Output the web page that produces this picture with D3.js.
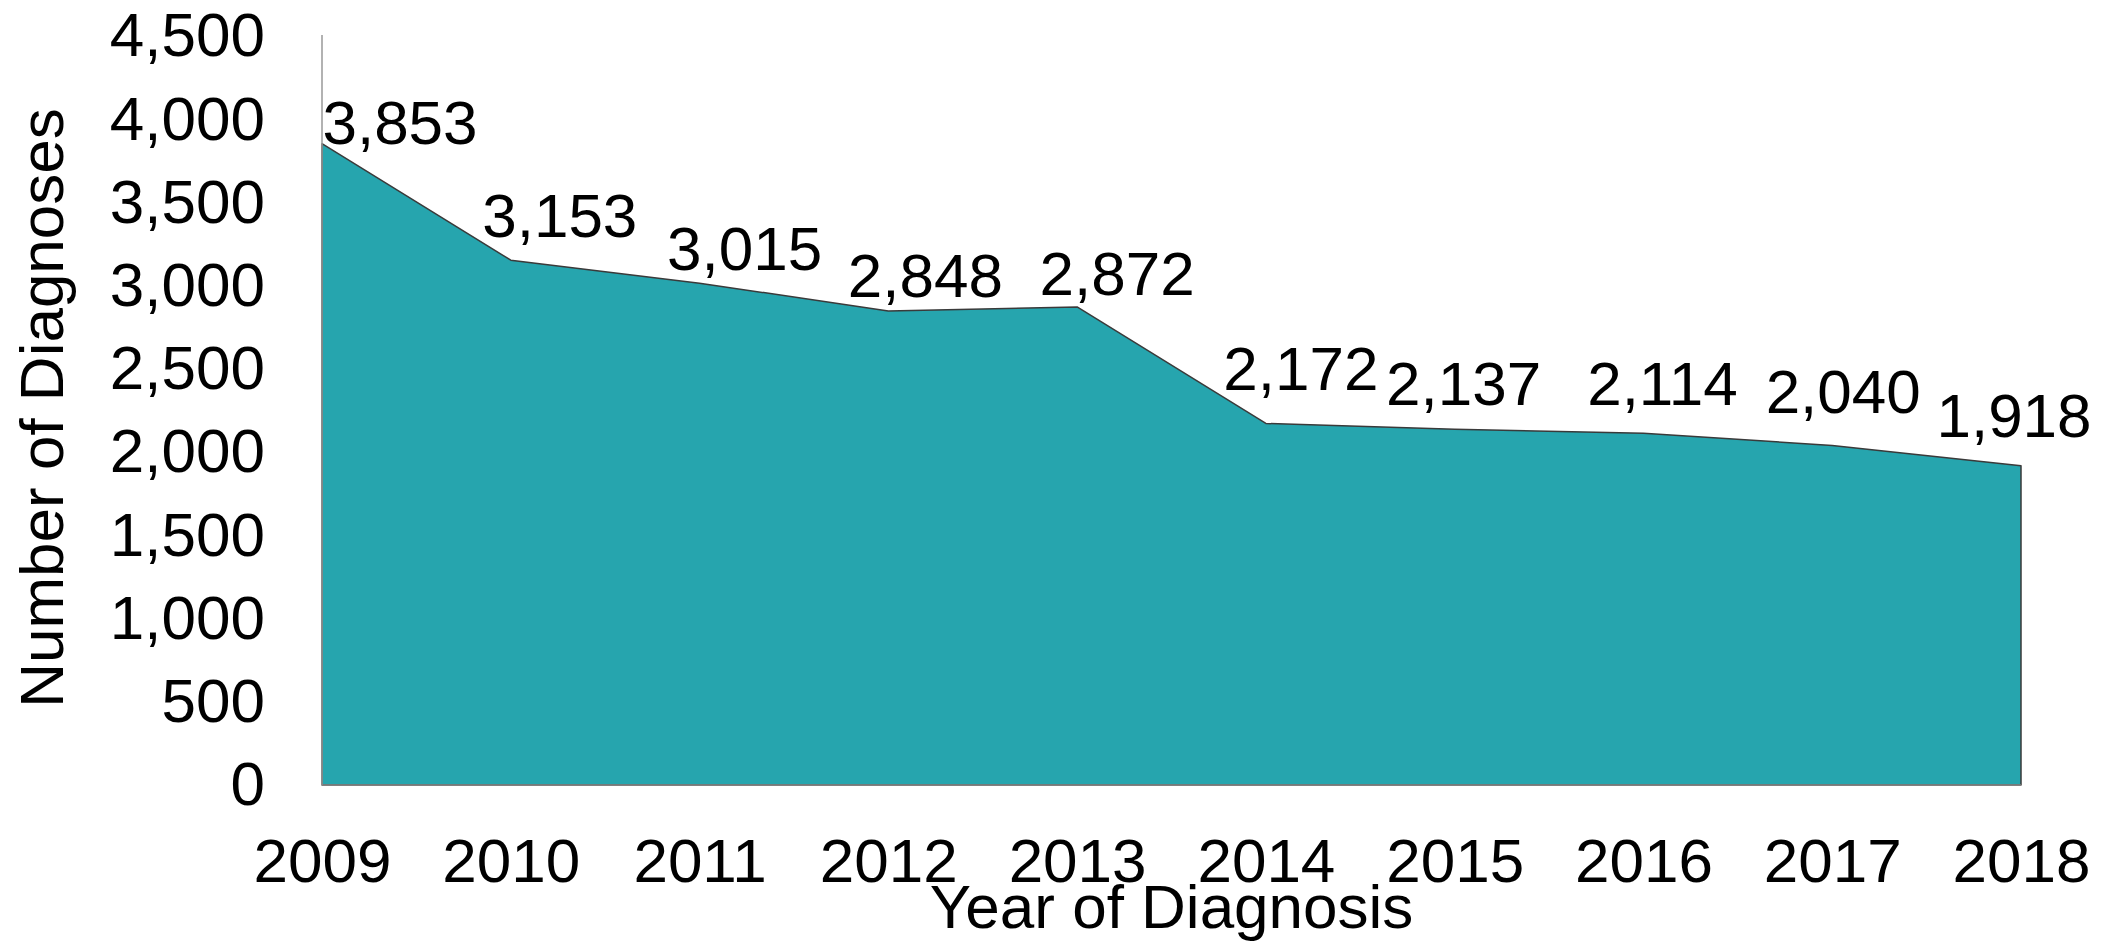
<!DOCTYPE html>
<html>
<head>
<meta charset="utf-8">
<script src="https://cdn.jsdelivr.net/npm/d3@7"></script>
<style>
  html, body { margin: 0; padding: 0; background: #fff; }
  svg text { font-family: "Liberation Sans", Arial, sans-serif; fill: #000; }
</style>
</head>
<body>
<svg width="2103" height="949"></svg>
<script>
const years = [2009, 2010, 2011, 2012, 2013, 2014, 2015, 2016, 2017, 2018];
const diagnoses = [3853, 3153, 3015, 2848, 2872, 2172, 2137, 2114, 2040, 1918];
const yTicks = [0, 500, 1000, 1500, 2000, 2500, 3000, 3500, 4000, 4500];

// hand-placed label nudges (dx from point centre, dy baseline from point)
const labelNudge = [[78, 0], [49, -23], [45, -13], [37, -14], [40, -12], [35, -33], [9, -24], [19, -28], [11, -32], [-7, -29]];

const fontSize = 62;
const plotLeft = 322, plotRight = 2021, plotTop = 36, plotBottom = 785;

const svg = d3.select('svg');

const x = d3.scalePoint().domain(years).range([plotLeft, plotRight]);
const y = d3.scaleLinear().domain([0, 4500]).range([plotBottom, plotTop]);

const rows = years.map((yr, i) => ({year: yr, value: diagnoses[i], nudge: labelNudge[i]}));

// area
const area = d3.area()
    .x(d => x(d.year))
    .y0(y(0))
    .y1(d => y(d.value));

svg.append('path')
    .datum(rows)
    .attr('d', area)
    .attr('fill', '#26a5ae')
    .attr('stroke', '#3a3a3a')
    .attr('stroke-width', 1.5)
    .attr('stroke-linejoin', 'round');

// y axis
const yAxis = svg.append('g')
    .attr('transform', `translate(${plotLeft},0)`)
    .call(d3.axisLeft(y).tickValues(yTicks).tickFormat(d3.format(',')).tickSize(0).tickPadding(57));
yAxis.select('.domain').remove();
yAxis.selectAll('text').style('font-size', `${fontSize}px`).attr('font-family', null).attr('fill', '#000');
yAxis.attr('font-family', null).attr('font-size', null);

svg.append('line')
    .attr('x1', plotLeft).attr('x2', plotLeft)
    .attr('y1', plotTop - 1).attr('y2', plotBottom)
    .attr('stroke', '#999').attr('stroke-width', 1.5);

// x axis
const xAxis = svg.append('g')
    .attr('transform', `translate(0,${plotBottom})`)
    .call(d3.axisBottom(x).tickSize(0).tickPadding(53));
xAxis.select('.domain').remove();
xAxis.selectAll('text').style('font-size', `${fontSize}px`).attr('fill', '#000');
xAxis.attr('font-family', null).attr('font-size', null);

svg.append('line')
    .attr('x1', plotLeft).attr('x2', plotRight)
    .attr('y1', plotBottom).attr('y2', plotBottom)
    .attr('stroke', '#888').attr('stroke-width', 1.5);

// data labels
svg.append('g')
    .selectAll('text')
    .data(rows)
    .join('text')
    .attr('x', d => x(d.year) + d.nudge[0])
    .attr('y', d => y(d.value) + d.nudge[1])
    .attr('text-anchor', 'middle')
    .style('font-size', `${fontSize}px`)
    .text(d => d3.format(',')(d.value));

// axis titles
svg.append('text')
    .attr('transform', `translate(63,408) rotate(-90)`)
    .attr('text-anchor', 'middle')
    .style('font-size', `${fontSize}px`)
    .text('Number of Diagnoses');

svg.append('text')
    .attr('x', (plotLeft + plotRight) / 2)
    .attr('y', 928)
    .attr('text-anchor', 'middle')
    .style('font-size', `${fontSize}px`)
    .text('Year of Diagnosis');
</script>
</body>
</html>
